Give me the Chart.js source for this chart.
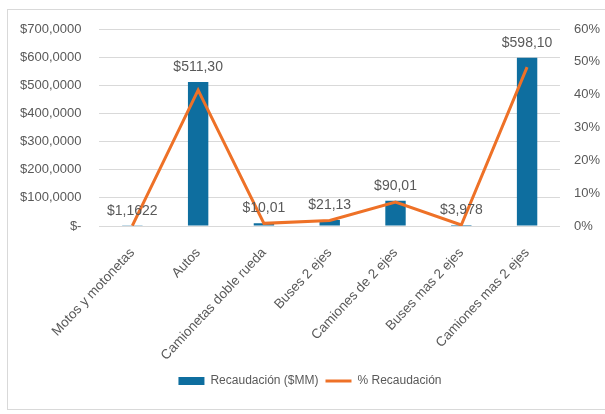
<!DOCTYPE html>
<html>
<head>
<meta charset="utf-8">
<script src="https://cdn.jsdelivr.net/npm/chart.js@4"></script>
<style>
  body { margin: 0; background: #fff; }
  .box { position: absolute; left: 7px; top: 9px; width: 600px; height: 401px; border: 1px solid #d9d9d9; box-sizing: border-box; }
</style>
</head>
<body>
<div class="box"><canvas id="myChart"></canvas></div>
<script>
const categories = ['Motos y motonetas', 'Autos', 'Camionetas doble rueda', 'Buses 2 ejes', 'Camiones de 2 ejes', 'Buses mas 2 ejes', 'Camiones mas 2 ejes'];
const recaudacion = [1.1622, 511.30, 10.01, 21.13, 90.01, 3.978, 598.10];
const recaudacionLabels = ['$1,1622', '$511,30', '$10,01', '$21,13', '$90,01', '$3,978', '$598,10'];
const pctRecaudacion = [0.1, 41.4, 0.8, 1.7, 7.3, 0.3, 48.4];

const grey = '#595959';
const font = 'Liberation Sans';

// etiquetas encima de las barras
const barLabels = {
  id: 'barLabels',
  afterDatasetsDraw(chart) {
    const ctx = chart.ctx;
    const meta = chart.getDatasetMeta(0);
    ctx.save();
    ctx.font = '14px "' + font + '"';
    ctx.fillStyle = grey;
    ctx.textAlign = 'center';
    ctx.textBaseline = 'bottom';
    meta.data.forEach((el, i) => {
      ctx.fillText(recaudacionLabels[i], el.x, el.y - 8);
    });
    ctx.restore();
  }
};

const ctx = document.getElementById('myChart').getContext('2d');
const myChart = new Chart(ctx, {
  data: {
    labels: categories,
    datasets: [{
      type: 'bar',
      label: 'Recaudación ($MM)',
      data: recaudacion,
      backgroundColor: '#0e6e9f',
      borderWidth: 0,
      pointStyle: 'rect',
      categoryPercentage: 1,
      barPercentage: 0.31,
      yAxisID: 'y',
      order: 1
    }, {
      type: 'line',
      label: '% Recaudación',
      data: pctRecaudacion,
      borderColor: '#ee7127',
      backgroundColor: '#ee7127',
      borderWidth: 3,
      pointRadius: 0,
      pointStyle: 'line',
      tension: 0,
      yAxisID: 'y1',
      order: 0
    }]
  },
  options: {
    responsive: true,
    maintainAspectRatio: false,
    animation: false,
    layout: { padding: { left: 12, right: 6, top: 19, bottom: 12 } },
    plugins: {
      tooltip: { enabled: false },
      legend: {
        position: 'bottom',
        labels: {
          usePointStyle: true,
          pointStyleWidth: 26,
          boxHeight: 8,
          padding: 7,
          color: grey,
          font: { family: font, size: 12 },
          sort: (a, b) => a.datasetIndex - b.datasetIndex
        }
      }
    },
    scales: {
      x: {
        grid: { display: false, drawTicks: false },
        border: { color: '#d9d9d9' },
        ticks: {
          color: grey,
          font: { family: font, size: 13.5 },
          maxRotation: 47,
          minRotation: 47,
          padding: 19
        },
        afterFit: scale => { scale.height = 142; }
      },
      y: {
        position: 'left',
        min: 0,
        max: 700,
        grid: { color: '#d9d9d9', tickLength: 18, tickColor: 'transparent' },
        border: { display: false },
        ticks: {
          stepSize: 100,
          padding: 0,
          color: grey,
          font: { family: font, size: 13 },
          callback: v => v === 0 ? '$-' : '$' + v + ',0000'
        }
      },
      y1: {
        position: 'right',
        min: 0,
        max: 60,
        grid: { display: false, tickLength: 14, tickColor: 'transparent' },
        border: { display: false },
        ticks: {
          stepSize: 10,
          padding: 0,
          color: grey,
          font: { family: font, size: 13 },
          callback: v => v + '%'
        }
      }
    }
  },
  plugins: [barLabels]
});
</script>
</body>
</html>
